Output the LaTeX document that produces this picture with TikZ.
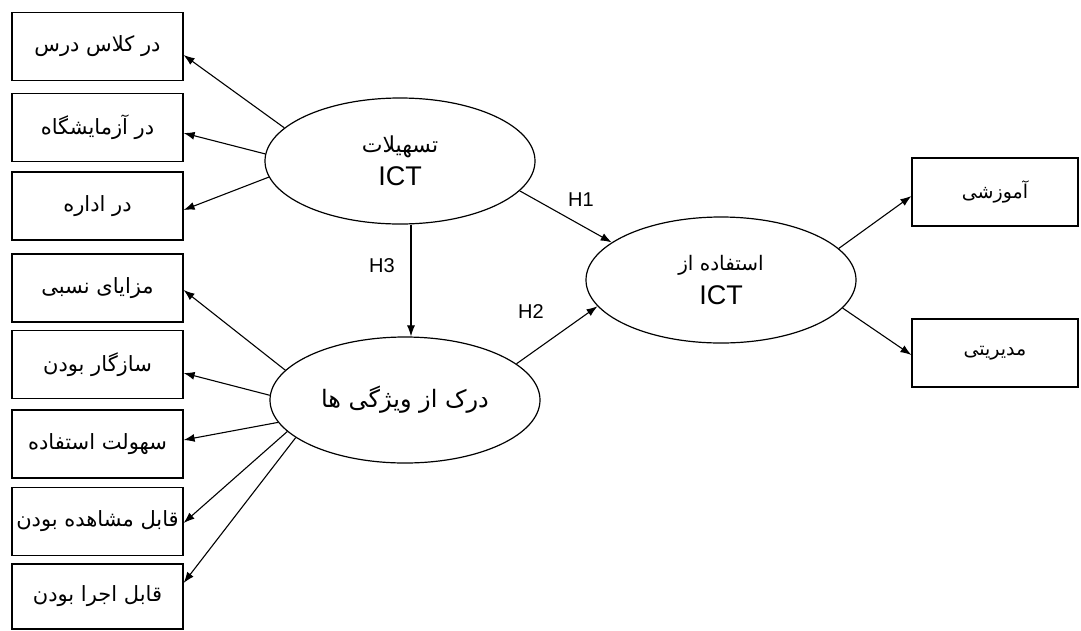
\documentclass[tikz,border=0pt]{standalone}
\usepackage{fontspec}
\setmainfont{Liberation Sans}
\newfontfamily\arabicfont[Script=Arabic]{DejaVu Sans}
\TeXXeTstate=1
\usetikzlibrary{shapes.geometric,arrows.meta}
\newcommand{\fa}[1]{{\arabicfont\beginR #1\endR}}
\begin{document}
\begin{tikzpicture}[x=1pt,y=-1pt,
  box/.style={draw, line width=1.2pt, minimum width=171pt, minimum height=68pt, inner sep=0pt, font=\fontsize{21}{24}\selectfont},
  rbox/.style={box, minimum width=166pt, font=\fontsize{19}{22}\selectfont},
  ell/.style={draw, ellipse, line width=1.2pt, minimum width=270pt, minimum height=126pt, inner sep=0pt, align=center},
  arr/.style={line width=1.1pt, -{Latex[length=11pt,width=8pt]}},
  hlab/.style={font=\fontsize{20}{22}\selectfont, inner sep=0pt}]
\useasboundingbox (0,0) rectangle (1081,630);
\fill[white] (0,0) rectangle (1081,630);
% left boxes
\node[box] (b1) at (97.5,46.5) {\fa{در کلاس درس}};
\node[box] (b2) at (97.5,127.5) {\fa{در آزمایشگاه}};
\node[box] (b3) at (97.5,206) {\fa{در اداره}};
\node[box] (b4) at (97.5,288) {\fa{مزایای نسبی}};
\node[box] (b5) at (97.5,364.5) {\fa{سازگار بودن}};
\node[box] (b6) at (97.5,444) {\fa{سهولت استفاده}};
\node[box] (b7) at (97.5,521.5) {\fa{قابل مشاهده بودن}};
\node[box, minimum height=65pt] (b8) at (97.5,596.5) {\fa{قابل اجرا بودن}};
% right boxes
\node[rbox] (r1) at (995,192) {\fa{آموزشی}};
\node[rbox] (r2) at (995,353) {\fa{مدیریتی}};
% ellipses
\node[ell] (top) at (400,161) {\fontsize{22}{24}\selectfont\fa{تسهیلات}\\[8pt]\fontsize{27}{28}\selectfont ICT};
\node[ell] (bot) at (405,400) {\fontsize{24}{26}\selectfont\fa{درک از ویژگی ها}};
\node[ell] (use) at (721,280) {\fontsize{20}{22}\selectfont\fa{استفاده از}\\[10pt]\fontsize{27}{28}\selectfont ICT};
% arrows from top ellipse
\draw[arr] (top.164.6) -- ([yshift=-8.5pt]b1.east);
\draw[arr] (top.177.5) -- ([yshift=-5.5pt]b2.east);
\draw[arr] (top.187.3) -- ([yshift=-4pt]b3.east);
% arrows from bottom ellipse
\draw[arr] (bot.166.5) -- ([yshift=-2pt]b4.east);
\draw[arr] (bot.178.7) -- ([yshift=-8.5pt]b5.east);
\draw[arr] (bot.190) -- ([yshift=4pt]b6.east);
\draw[arr] (bot.195.5) -- ([yshift=-1.5pt]b7.east);
\draw[arr] (bot.199) -- ([yshift=13.5pt]b8.east);
% hypotheses
\draw[arr] ([xshift=11pt]top.south) -- ([xshift=6pt]bot.north);
\draw[arr] (top.-14.4) -- (use.161.3);
\draw[arr] (bot.18.7) -- (use.192);
\node[hlab] (h3) at (382,266) {H3};
\node[hlab] (h1) at (581,200) {H1};
\node[hlab] (h2) at (531,312) {H2};
% right arrows
\draw[arr] (use.15.3) -- ([yshift=-4pt]r1.west);
\draw[arr] (use.-13.8) -- ([yshift=-2pt]r2.west);
\end{tikzpicture}
\end{document}
